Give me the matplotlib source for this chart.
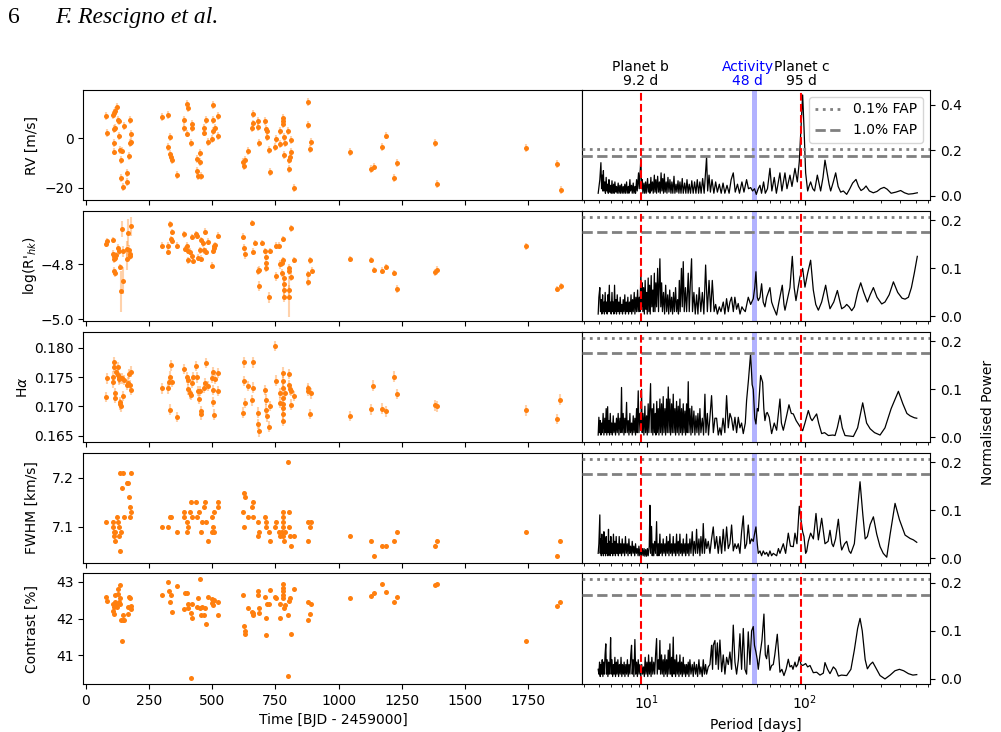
import numpy as np
import matplotlib
matplotlib.use("Agg")
import matplotlib.pyplot as plt
from matplotlib.ticker import MultipleLocator, FuncFormatter, FormatStrFormatter
import matplotlib.transforms as mtransforms

plt.rcParams['font.family'] = ['DejaVu Sans']

# ---------------- time series data ----------------
rv_time = [80, 83, 107, 112, 116, 124, 112, 116, 112, 112,
           129, 131, 131, 137, 138, 140, 144, 147, 150, 164,
           164, 170, 173, 174, 177, 180,
           300, 326, 326, 333, 333, 338, 341, 360, 390, 390,
           400, 403, 400, 415, 420, 421, 438, 438, 445, 451,
           452, 454, 467, 469, 475, 482, 499, 503, 505, 505,
           510, 521, 524,
           620, 625, 628, 643, 658, 661, 662, 682, 683, 686,
           710, 713, 716, 717, 726, 728, 749, 753, 768, 769,
           778, 780, 780, 783, 784, 786, 801, 804, 805, 808,
           810, 811, 823, 878, 879, 888, 891,
           1043, 1126, 1138, 1173, 1188, 1220, 1231, 1381, 1390, 1741, 1865, 1878]
rv_val = [9.0, 2.3, 9.7, 10.3, 11.3, 12.7, 3.8, 4.1, -1.8, -5.3,
          7.6, 6.9, 1.1, -4.8, -15.9, -8.8, -4.9, -19.7, 4.9, -17.7,
          -13.9, -7.1, 7.5, -1.8, -1.5, 1.8,
          8.8, 9.4, -3.3, 0.7, -6.4, -7.5, -8.8, -14.7, 7.6, 4.2,
          13.9, 12.5, 2.0, -1.9, 5.9, 4.1, -8.2, -13.1, -15.1, -6.0,
          -9.5, -15.2, 4.4, 2.4, 7.5, -1.5, -0.1, 7.5, 13.5, 3.1,
          4.1, 9.0, 1.0,
          -9.5, -11.2, -8.7, -5.0, 4.2, 9.8, 6.1, 7.1, 4.8, -1.9,
          7.1, 3.8, 0.4, 3.1, -4.8, -13.6, -3.3, -0.3, 3.1, -2.3,
          8.2, 6.9, 5.9, -6.7, 0.7, -2.0, 3.1, -8.8, -12.4, -7.5,
          -5.4, -0.7, -20.0, 14.7, 5.6, -4.2, -1.6,
          -5.6, -12.4, -11.4, -3.3, 1.2, -15.9, -9.8, -1.9, -18.6, -3.7, -10.5, -21.1]
rv_err = 1.6

logr_time = [80, 83, 107, 107, 110, 112, 112, 116, 116, 120,
             129, 131, 137, 138, 144, 149, 149, 162, 164, 168,
             171, 173, 174, 180,
             300, 326, 327, 333, 338, 341, 342, 360, 390, 393,
             400, 403, 405, 414, 420, 421, 423, 435, 440, 445,
             451, 454, 457, 464, 469, 473, 475, 482, 499, 502,
             506, 508, 512, 524,
             620, 625, 629, 658, 662, 668, 682, 685, 685, 698,
             710, 713, 714, 711, 726, 728, 751, 754, 765, 768,
             774, 777, 778, 780, 783, 783, 783, 783, 802, 804,
             804, 805, 810, 811, 824, 878, 879, 887, 893,
             1043, 1126, 1138, 1173, 1188, 1220, 1231, 1381, 1390, 1741, 1865, 1878]
logr_val = [-4.725, -4.715, -4.710, -4.763, -4.769, -4.781, -4.825, -4.831, -4.775, -4.765,
            -4.738, -4.752, -4.810, -4.898, -4.671, -4.752, -4.859, -4.780, -4.745, -4.684,
            -4.747, -4.769, -4.760, -4.660,
            -4.731, -4.731, -4.754, -4.653, -4.706, -4.681, -4.713, -4.731, -4.690, -4.744,
            -4.731, -4.785, -4.750, -4.753, -4.700, -4.769, -4.788, -4.688, -4.694, -4.775,
            -4.748, -4.779, -4.710, -4.723, -4.748, -4.680, -4.753, -4.716, -4.804, -4.750,
            -4.734, -4.738, -4.728, -4.694,
            -4.698, -4.738, -4.760, -4.648, -4.753, -4.721, -4.825, -4.879, -4.819, -4.721,
            -4.750, -4.771, -4.796, -4.813, -4.921, -4.750, -4.731, -4.844, -4.731, -4.800,
            -4.796, -4.831, -4.706, -4.785, -4.848, -4.873, -4.894, -4.919, -4.813, -4.894,
            -4.919, -4.825, -4.846, -4.668, -4.783, -4.836, -4.865, -4.785, -4.823,
            -4.780, -4.784, -4.821, -4.823, -4.809, -4.831, -4.890, -4.829, -4.819, -4.734, -4.890, -4.880]
logr_err = [0.012, 0.012, 0.012, 0.015, 0.015, 0.015, 0.015, 0.015, 0.012, 0.012,
            0.012, 0.012, 0.012, 0.075, 0.030, 0.020, 0.050, 0.040, 0.030, 0.050,
            0.020, 0.015, 0.015, 0.035,
            0.012, 0.012, 0.012, 0.012, 0.012, 0.012, 0.012, 0.012, 0.012, 0.012,
            0.012, 0.012, 0.012, 0.012, 0.012, 0.012, 0.012, 0.012, 0.012, 0.012,
            0.012, 0.012, 0.012, 0.012, 0.012, 0.012, 0.012, 0.012, 0.012, 0.012,
            0.012, 0.012, 0.012, 0.012,
            0.012, 0.012, 0.020, 0.012, 0.012, 0.012, 0.015, 0.020, 0.012, 0.012,
            0.012, 0.012, 0.015, 0.015, 0.020, 0.012, 0.012, 0.015, 0.012, 0.015,
            0.012, 0.015, 0.012, 0.012, 0.015, 0.020, 0.020, 0.020, 0.015, 0.020,
            0.075, 0.012, 0.015, 0.012, 0.012, 0.012, 0.015, 0.012, 0.012,
            0.012, 0.012, 0.012, 0.012, 0.012, 0.012, 0.015, 0.012, 0.012, 0.012, 0.012, 0.012]

ha_time = [79, 83, 107, 109, 110, 113, 115, 116, 118, 126,
           129, 131, 132, 134, 135, 137, 138, 144, 147, 150,
           165, 167, 171, 176, 177, 180,
           300, 326, 329, 333, 333, 338, 342, 360, 387, 400,
           403, 405, 414, 417, 421, 424, 436, 438, 445, 449,
           452, 454, 455, 467, 470, 475, 482, 499, 503, 503,
           505, 506, 510, 521, 524,
           620, 625, 626, 629, 643, 658, 661, 662, 682, 683,
           686, 710, 713, 714, 716, 726, 728, 749, 753, 768,
           769, 778, 781, 781, 781, 781, 781, 781, 781, 786,
           802, 804, 808, 810, 812, 823, 878, 879, 885, 891,
           1043, 1126, 1137, 1173, 1188, 1220, 1231, 1381, 1390, 1740, 1864, 1877]
ha_val = [0.17164, 0.17481, 0.17510, 0.17412, 0.17671, 0.17758, 0.17221, 0.17152, 0.17585, 0.17539,
          0.17666, 0.17464, 0.17498, 0.17481, 0.17077, 0.17037, 0.17002, 0.17481, 0.17181, 0.17452,
          0.17366, 0.17406, 0.17556, 0.17366, 0.17279, 0.17596,
          0.17308, 0.17308, 0.17412, 0.17510, 0.16945, 0.17700, 0.17423, 0.16818, 0.17642, 0.17498,
          0.17291, 0.17452, 0.17221, 0.17198, 0.17406, 0.17498, 0.17694, 0.17498, 0.17262, 0.17135,
          0.17262, 0.16922, 0.16864, 0.17319, 0.17394, 0.17740, 0.17348, 0.17492, 0.17585, 0.17279,
          0.17077, 0.16858, 0.17470, 0.17262, 0.17567,
          0.16893, 0.17435, 0.17752, 0.17060, 0.17348, 0.17106, 0.17752, 0.17319, 0.16893, 0.16702,
          0.16576, 0.17279, 0.17118, 0.16945, 0.16829, 0.16656, 0.17008, 0.18029, 0.17441, 0.17233,
          0.17066, 0.17308, 0.17579, 0.17441, 0.17147, 0.17037, 0.16980, 0.16864, 0.16749, 0.17221,
          0.17550, 0.17366, 0.17291, 0.17031, 0.17262, 0.17175, 0.17308, 0.17268, 0.16875, 0.17221,
          0.16835, 0.16950, 0.17354, 0.16962, 0.16916, 0.17510, 0.17210, 0.17020, 0.17002, 0.16933, 0.16789, 0.17118]
ha_err = 0.0009

fwhm_time = [80, 107, 109, 110, 112, 115, 116, 125, 129, 131,
             131, 135, 137, 138, 144, 146, 150, 162, 168, 171,
             174, 176, 177, 180,
             300, 326, 333, 338, 360, 390, 390, 400, 400, 403,
             414, 418, 420, 436, 439, 449, 454, 458, 467, 473,
             475, 482, 499, 500, 505, 506, 509, 521, 524,
             620, 625, 627, 629, 643, 658, 661, 662, 682, 683,
             685, 710, 713, 714, 726, 728, 749, 753, 766, 768,
             775, 778, 781, 781, 781, 781, 783, 786, 801, 804,
             805, 808, 811, 823, 878, 879, 885, 891,
             1043, 1126, 1138, 1173, 1188, 1220, 1231, 1381, 1390, 1740, 1864, 1877]
fwhm_val = [7.11, 7.11, 7.10, 7.09, 7.08, 7.07, 7.09, 7.12, 7.11, 7.10,
            7.08, 7.21, 7.05, 7.09, 7.18, 7.21, 7.12, 7.19, 7.19, 7.16,
            7.12, 7.14, 7.13, 7.21,
            7.10, 7.10, 7.12, 7.12, 7.09, 7.13, 7.12, 7.11, 7.09, 7.10,
            7.13, 7.15, 7.12, 7.15, 7.12, 7.13, 7.09, 7.11, 7.14, 7.15,
            7.11, 7.07, 7.12, 7.09, 7.10, 7.09, 7.13, 7.14, 7.15,
            7.13, 7.17, 7.10, 7.16, 7.12, 7.14, 7.15, 7.12, 7.08, 7.11,
            7.09, 7.12, 7.10, 7.11, 7.09, 7.07, 7.10, 7.11, 7.09, 7.08,
            7.09, 7.13, 7.12, 7.11, 7.10, 7.08, 7.07, 7.09, 7.232, 7.13,
            7.10, 7.08, 7.06, 7.08, 7.11, 7.07, 7.10, 7.11,
            7.08, 7.07, 7.04, 7.06, 7.06, 7.07, 7.09, 7.06, 7.07, 7.09, 7.04, 7.07]
fwhm_err = 0.004

con_time = [80, 83, 107, 109, 110, 112, 115, 116, 119, 123,
            126, 129, 131, 134, 135, 137, 138, 144, 146, 149,
            153, 167, 168, 171, 176, 177, 180,
            300, 326, 329, 333, 338, 341, 360, 390, 391, 400,
            403, 405, 415, 418, 421, 421, 438, 443, 452, 452,
            457, 461, 466, 472, 475, 482, 499, 500, 503, 505,
            509, 521, 524,
            620, 625, 628, 631, 643, 658, 661, 662, 682, 683,
            685, 686, 710, 713, 714, 717, 726, 728, 749, 753,
            768, 769, 780, 780, 780, 780, 781, 783, 787, 801,
            801, 802, 807, 811, 823, 878, 879, 885, 891,
            1043, 1126, 1138, 1173, 1188, 1220, 1231, 1381, 1390, 1740, 1864, 1877]
con_val = [42.60, 42.48, 42.40, 42.21, 42.12, 42.32, 42.65, 42.46, 42.37, 42.32,
           42.68, 42.81, 42.46, 42.40, 42.91, 42.56, 41.95, 41.40, 41.95, 42.09,
           41.95, 42.32, 42.12, 42.60, 42.56, 42.34, 42.25,
           42.65, 43.00, 42.74, 42.46, 42.65, 42.19, 42.88, 42.26, 42.69, 42.71,
           42.40, 42.30, 42.14, 40.38, 42.40, 42.03, 42.32, 42.56, 43.08, 42.30,
           42.11, 42.32, 42.09, 42.28, 41.84, 42.60, 42.53, 42.42, 42.48, 42.37,
           42.51, 42.09, 42.46,
           42.65, 41.79, 41.65, 41.58, 42.30, 42.19, 42.09, 42.16, 42.74, 42.63,
           42.30, 42.14, 42.58, 42.02, 41.56, 42.39, 42.39, 42.79, 42.60, 42.56,
           42.39, 42.02, 42.93, 42.84, 42.74, 42.65, 42.56, 42.30, 42.37, 42.09,
           40.45, 42.48, 42.56, 41.58, 42.81, 42.44, 41.95, 42.12, 42.40,
           42.56, 42.62, 42.71, 42.95, 42.72, 42.44, 42.60, 42.91, 42.93, 41.40, 42.35, 42.44]
con_err = 0.02

# ---------------- periodograms: (period [d], normalised power) ----------------
pgram_rv = [
    (4.95, 0.01), (5.07, 0.07), (5.15, 0.145), (5.20, 0.03), (5.25, 0.09), (5.29, 0.02), (5.34, 0.11), (5.38, 0.02),
    (5.45, 0.06), (5.50, 0.01), (5.56, 0.08), (5.61, 0.02), (5.68, 0.05), (5.73, 0.01), (5.79, 0.07), (5.84, 0.015),
    (5.93, 0.045), (5.98, 0.01), (6.05, 0.065), (6.12, 0.01), (6.20, 0.05), (6.25, 0.01), (6.31, 0.06), (6.40, 0.015),
    (6.46, 0.04), (6.53, 0.01), (6.62, 0.055), (6.69, 0.01), (6.79, 0.045), (6.85, 0.01), (6.95, 0.05), (7.02, 0.01),
    (7.12, 0.04), (7.19, 0.01), (7.29, 0.05), (7.36, 0.01), (7.48, 0.06), (7.55, 0.01), (7.66, 0.04), (7.74, 0.01),
    (7.85, 0.07), (7.92, 0.02), (8.04, 0.045), (8.12, 0.01), (8.24, 0.055), (8.32, 0.01), (8.44, 0.04), (8.52, 0.01),
    (8.65, 0.07), (8.73, 0.02), (8.90, 0.10), (8.99, 0.03), (9.21, 0.165), (9.30, 0.03), (9.39, 0.07), (9.48, 0.01),
    (9.62, 0.055), (9.72, 0.01), (9.86, 0.06), (9.95, 0.01), (10.15, 0.075), (10.25, 0.015), (10.40, 0.05), (10.50, 0.01),
    (10.65, 0.08), (10.75, 0.02), (10.90, 0.06), (11.02, 0.01), (11.20, 0.09), (11.30, 0.015), (11.45, 0.07), (11.57, 0.01),
    (11.75, 0.085), (11.90, 0.015), (12.05, 0.06), (12.20, 0.01), (12.35, 0.10), (12.50, 0.02), (12.65, 0.075), (12.80, 0.01),
    (12.95, 0.095), (13.10, 0.015), (13.30, 0.06), (13.45, 0.01), (13.65, 0.08), (13.85, 0.015), (14.05, 0.07), (14.25, 0.01),
    (14.45, 0.06), (14.65, 0.01), (14.90, 0.085), (15.10, 0.01), (15.35, 0.05), (15.55, 0.015), (15.80, 0.065), (16.00, 0.01),
    (16.25, 0.06), (16.50, 0.01), (16.80, 0.075), (17.05, 0.01), (17.40, 0.055), (17.70, 0.01), (18.00, 0.07), (18.30, 0.01),
    (18.60, 0.05), (18.95, 0.01), (19.30, 0.065), (19.70, 0.01), (20.10, 0.06), (20.50, 0.01), (20.90, 0.07), (21.30, 0.01),
    (21.70, 0.06), (22.10, 0.01), (22.60, 0.075), (23.10, 0.01), (23.45, 0.08), (23.93, 0.17), (24.30, 0.02), (24.80, 0.09),
    (25.30, 0.015), (25.90, 0.07), (26.60, 0.01), (27.30, 0.06), (28.00, 0.015), (28.80, 0.05), (29.60, 0.01), (30.40, 0.055),
    (31.20, 0.01), (32.20, 0.045), (33.20, 0.01), (34.20, 0.07), (35.27, 0.10), (36.30, 0.015), (37.50, 0.05), (38.60, 0.01),
    (40.00, 0.06), (41.20, 0.015), (42.80, 0.07), (44.00, 0.03), (45.40, 0.035), (46.70, 0.02), (48.00, 0.03), (49.30, 0.005),
    (50.70, 0.03), (51.98, 0.045), (53.20, 0.01), (54.80, 0.06), (56.20, 0.01), (58.00, 0.03), (60.12, 0.12), (61.80, 0.02),
    (64.00, 0.08), (66.00, 0.01), (69.50, 0.10), (71.50, 0.02), (74.77, 0.10), (77.00, 0.03), (80.40, 0.09), (82.80, 0.04),
    (86.50, 0.12), (89.50, 0.06), (92.10, 0.15), (94.40, 0.30), (96.70, 0.444), (98.60, 0.30), (101.0, 0.10), (104.0, 0.02),
    (106.0, 0.04), (108.6, 0.06), (112.0, 0.03), (115.0, 0.02), (119.7, 0.09), (125.6, 0.02), (130.0, 0.08), (133.8, 0.156),
    (138.0, 0.10), (142.0, 0.05), (145.3, 0.02), (151.0, 0.06), (156.3, 0.10), (162.0, 0.04), (168.1, 0.015), (174.7, 0.02),
    (183.4, 0.005), (192.0, 0.03), (200.0, 0.055), (210.0, 0.071), (218.0, 0.04), (226.0, 0.022), (235.0, 0.03), (243.0, 0.042),
    (255.0, 0.02), (270.0, 0.012), (285.0, 0.018), (300.0, 0.03), (315.7, 0.036), (330.0, 0.028), (350.0, 0.01), (375.0, 0.015),
    (402.0, 0.022), (425.0, 0.012), (450.0, 0.006), (480.0, 0.008), (512.0, 0.012)]

pgram_logr = [
    (4.95, 0.005), (5.00, 0.04), (5.07, 0.06), (5.12, 0.01), (5.18, 0.035), (5.22, 0.005), (5.28, 0.045), (5.32, 0.01),
    (5.38, 0.03), (5.42, 0.005), (5.48, 0.05), (5.53, 0.01), (5.59, 0.03), (5.64, 0.005), (5.70, 0.045), (5.75, 0.01),
    (5.82, 0.065), (5.87, 0.01), (5.93, 0.03), (5.98, 0.005), (6.05, 0.05), (6.10, 0.01), (6.16, 0.03), (6.22, 0.005),
    (6.28, 0.065), (6.34, 0.01), (6.40, 0.035), (6.46, 0.005), (6.53, 0.045), (6.60, 0.01), (6.68, 0.03), (6.75, 0.005),
    (6.82, 0.04), (6.90, 0.01), (6.98, 0.025), (7.05, 0.005), (7.12, 0.035), (7.20, 0.01), (7.29, 0.045), (7.36, 0.005),
    (7.45, 0.03), (7.52, 0.01), (7.62, 0.04), (7.70, 0.005), (7.80, 0.03), (7.88, 0.01), (7.98, 0.045), (8.06, 0.005),
    (8.16, 0.035), (8.24, 0.01), (8.36, 0.05), (8.44, 0.005), (8.56, 0.04), (8.65, 0.01), (8.78, 0.055), (8.86, 0.01),
    (8.99, 0.04), (9.08, 0.01), (9.21, 0.09), (9.30, 0.02), (9.39, 0.07), (9.48, 0.01), (9.58, 0.06), (9.68, 0.005),
    (9.80, 0.075), (9.90, 0.015), (10.00, 0.05), (10.10, 0.005), (10.24, 0.08), (10.34, 0.01), (10.45, 0.065), (10.55, 0.005),
    (10.70, 0.085), (10.80, 0.02), (10.95, 0.055), (11.05, 0.01), (11.20, 0.09), (11.30, 0.01), (11.45, 0.07), (11.57, 0.02),
    (11.75, 0.10), (11.90, 0.01), (12.00, 0.06), (12.14, 0.12), (12.30, 0.02), (12.45, 0.07), (12.60, 0.01), (12.80, 0.05),
    (13.00, 0.005), (13.20, 0.065), (13.40, 0.01), (13.60, 0.045), (13.80, 0.005), (14.00, 0.055), (14.20, 0.01), (14.40, 0.04),
    (14.60, 0.005), (14.80, 0.05), (15.00, 0.01), (15.25, 0.06), (15.47, 0.01), (15.70, 0.035), (15.90, 0.005), (16.10, 0.075),
    (16.30, 0.01), (16.60, 0.10), (16.80, 0.02), (17.05, 0.114), (17.30, 0.01), (17.60, 0.06), (17.90, 0.01), (18.33, 0.09),
    (18.60, 0.01), (18.90, 0.07), (19.24, 0.12), (19.50, 0.01), (19.90, 0.05), (20.30, 0.005), (20.70, 0.045), (21.10, 0.005),
    (21.50, 0.06), (22.00, 0.01), (22.50, 0.05), (23.00, 0.005), (23.60, 0.107), (24.20, 0.01), (24.80, 0.075), (25.40, 0.01),
    (26.00, 0.075), (26.70, 0.01), (27.30, 0.025), (28.00, 0.005), (28.80, 0.02), (29.50, 0.01), (30.50, 0.03), (31.20, 0.005),
    (32.00, 0.037), (32.80, 0.01), (33.60, 0.03), (34.40, 0.04), (35.30, 0.01), (36.10, 0.04), (37.00, 0.015), (37.90, 0.027),
    (38.90, 0.005), (40.00, 0.02), (40.80, 0.015), (42.00, 0.01), (43.86, 0.04), (45.40, 0.025), (47.17, 0.037), (48.20, 0.06),
    (49.03, 0.093), (50.00, 0.04), (50.73, 0.033), (52.00, 0.04), (53.26, 0.068), (54.50, 0.03), (55.90, 0.02), (57.30, 0.04),
    (60.12, 0.06), (61.60, 0.03), (63.10, 0.02), (66.20, 0.003), (68.50, 0.03), (71.92, 0.065), (73.70, 0.025), (74.80, 0.013),
    (78.00, 0.04), (80.40, 0.06), (83.19, 0.125), (85.50, 0.06), (87.75, 0.033), (90.50, 0.06), (93.00, 0.082), (96.70, 0.10),
    (100.0, 0.061), (104.0, 0.09), (108.6, 0.117), (112.9, 0.055), (117.0, 0.025), (121.5, 0.013), (127.5, 0.03), (135.1, 0.065),
    (140.0, 0.035), (143.9, 0.016), (152.0, 0.03), (160.2, 0.054), (166.5, 0.03), (170.6, 0.016), (178.0, 0.02), (183.4, 0.025),
    (190.0, 0.02), (197.3, 0.012), (205.0, 0.02), (215.0, 0.05), (224.9, 0.07), (235.0, 0.05), (247.8, 0.03), (258.0, 0.045),
    (270.4, 0.06), (285.0, 0.04), (305.2, 0.026), (320.0, 0.03), (340.0, 0.045), (361.7, 0.072), (385.0, 0.05), (410.0, 0.038),
    (428.6, 0.036), (450.0, 0.04), (470.0, 0.06), (490.0, 0.09), (512.0, 0.125)]

pgram_ha = [
    (4.95, 0.005), (5.00, 0.042), (5.05, 0.01), (5.10, 0.035), (5.15, 0.005), (5.20, 0.03), (5.25, 0.01), (5.32, 0.05),
    (5.38, 0.005), (5.45, 0.04), (5.50, 0.01), (5.56, 0.06), (5.61, 0.005), (5.68, 0.064), (5.73, 0.01), (5.79, 0.035),
    (5.84, 0.005), (5.90, 0.05), (5.96, 0.01), (6.02, 0.03), (6.08, 0.005), (6.16, 0.045), (6.22, 0.01), (6.31, 0.03),
    (6.37, 0.005), (6.46, 0.04), (6.53, 0.01), (6.62, 0.05), (6.69, 0.005), (6.79, 0.04), (6.87, 0.01), (6.95, 0.104),
    (7.02, 0.01), (7.12, 0.05), (7.20, 0.005), (7.29, 0.04), (7.36, 0.01), (7.48, 0.073), (7.55, 0.01), (7.66, 0.035),
    (7.74, 0.005), (7.85, 0.05), (7.92, 0.01), (8.04, 0.03), (8.12, 0.005), (8.24, 0.045), (8.32, 0.01), (8.44, 0.04),
    (8.52, 0.005), (8.65, 0.06), (8.73, 0.01), (8.86, 0.097), (8.95, 0.01), (9.08, 0.05), (9.21, 0.02), (9.30, 0.10),
    (9.39, 0.01), (9.50, 0.05), (9.62, 0.005), (9.76, 0.065), (9.86, 0.01), (10.00, 0.045), (10.10, 0.005), (10.24, 0.07),
    (10.34, 0.01), (10.45, 0.055), (10.60, 0.112), (10.70, 0.01), (10.86, 0.06), (10.95, 0.005), (11.10, 0.07), (11.20, 0.01),
    (11.35, 0.05), (11.45, 0.005), (11.60, 0.075), (11.70, 0.01), (11.85, 0.06), (11.97, 0.005), (12.14, 0.08), (12.26, 0.01),
    (12.44, 0.07), (12.56, 0.005), (12.74, 0.085), (12.87, 0.01), (13.06, 0.06), (13.19, 0.005), (13.38, 0.08), (13.51, 0.01),
    (13.71, 0.105), (13.85, 0.01), (14.04, 0.08), (14.18, 0.005), (14.39, 0.07), (14.53, 0.01), (14.74, 0.09), (14.89, 0.01),
    (15.10, 0.06), (15.25, 0.005), (15.47, 0.075), (15.62, 0.01), (15.85, 0.065), (16.01, 0.005), (16.24, 0.08), (16.40, 0.01),
    (16.64, 0.06), (16.80, 0.005), (17.05, 0.07), (17.21, 0.01), (17.47, 0.055), (17.64, 0.005), (17.89, 0.07), (18.07, 0.01),
    (18.33, 0.116), (18.51, 0.01), (18.78, 0.06), (19.07, 0.005), (19.30, 0.065), (19.55, 0.01), (19.90, 0.055), (20.19, 0.005),
    (20.50, 0.045), (20.80, 0.01), (21.10, 0.05), (21.41, 0.005), (21.72, 0.06), (22.04, 0.01), (22.50, 0.04), (22.90, 0.005),
    (23.36, 0.09), (23.70, 0.01), (24.20, 0.05), (24.60, 0.005), (25.10, 0.04), (25.73, 0.087), (26.40, 0.01), (27.02, 0.04),
    (27.68, 0.04), (28.36, 0.005), (29.05, 0.02), (29.60, 0.005), (30.40, 0.04), (31.20, 0.01), (32.01, 0.087), (32.80, 0.02),
    (33.60, 0.05), (34.43, 0.039), (35.27, 0.015), (36.14, 0.042), (37.02, 0.01), (37.93, 0.042), (38.86, 0.02), (39.81, 0.03),
    (40.79, 0.008), (42.00, 0.03), (42.81, 0.077), (44.00, 0.12), (45.38, 0.175), (46.40, 0.11), (47.17, 0.10), (48.20, 0.04),
    (49.03, 0.028), (50.00, 0.06), (50.73, 0.055), (52.49, 0.129), (54.04, 0.115), (55.00, 0.06), (55.89, 0.035), (57.00, 0.05),
    (57.82, 0.052), (59.50, 0.042), (61.60, 0.008), (64.00, 0.03), (66.24, 0.015), (69.53, 0.08), (71.00, 0.03), (73.00, 0.015),
    (76.00, 0.04), (79.25, 0.068), (82.00, 0.05), (84.41, 0.049), (88.00, 0.035), (92.00, 0.025), (96.70, 0.014), (100.0, 0.03),
    (105.0, 0.056), (108.6, 0.04), (111.0, 0.035), (118.5, 0.049), (122.0, 0.03), (127.5, 0.008), (133.0, 0.01), (140.5, 0.004),
    (150.0, 0.005), (154.8, 0.004), (160.0, 0.02), (166.5, 0.046), (172.0, 0.02), (179.0, 0.004), (190.0, 0.003), (202.1, 0.002),
    (215.0, 0.02), (231.5, 0.072), (245.0, 0.03), (258.0, 0.018), (275.0, 0.01), (297.9, 0.005), (320.0, 0.02), (350.0, 0.06),
    (388.9, 0.096), (415.0, 0.07), (440.0, 0.05), (461.0, 0.045), (490.0, 0.041), (507.9, 0.04)]

pgram_fwhm = [
    (4.95, 0.01), (5.00, 0.03), (5.07, 0.09), (5.10, 0.01), (5.15, 0.04), (5.18, 0.005), (5.22, 0.05), (5.26, 0.01),
    (5.30, 0.035), (5.34, 0.005), (5.38, 0.055), (5.42, 0.01), (5.47, 0.04), (5.51, 0.005), (5.56, 0.045), (5.60, 0.01),
    (5.65, 0.03), (5.70, 0.005), (5.75, 0.06), (5.79, 0.01), (5.84, 0.035), (5.89, 0.005), (5.95, 0.045), (6.00, 0.01),
    (6.06, 0.03), (6.11, 0.005), (6.18, 0.05), (6.24, 0.01), (6.30, 0.035), (6.36, 0.005), (6.43, 0.045), (6.50, 0.01),
    (6.57, 0.03), (6.64, 0.005), (6.72, 0.045), (6.79, 0.01), (6.87, 0.03), (6.95, 0.005), (7.02, 0.04), (7.10, 0.01),
    (7.19, 0.03), (7.27, 0.005), (7.36, 0.045), (7.45, 0.01), (7.55, 0.03), (7.64, 0.005), (7.74, 0.04), (7.83, 0.01),
    (7.92, 0.025), (8.02, 0.005), (8.12, 0.035), (8.22, 0.01), (8.32, 0.025), (8.42, 0.005), (8.52, 0.03), (8.62, 0.01),
    (8.73, 0.02), (8.84, 0.005), (8.95, 0.025), (9.06, 0.005), (9.17, 0.02), (9.28, 0.005), (9.40, 0.02), (9.52, 0.005),
    (9.64, 0.02), (9.76, 0.004), (9.88, 0.018), (10.00, 0.004), (10.12, 0.02), (10.24, 0.005), (10.40, 0.025), (10.50, 0.11),
    (10.60, 0.01), (10.75, 0.066), (10.86, 0.005), (11.00, 0.03), (11.10, 0.005), (11.25, 0.035), (11.40, 0.01), (11.57, 0.076),
    (11.68, 0.005), (11.85, 0.03), (11.97, 0.005), (12.14, 0.05), (12.26, 0.01), (12.44, 0.03), (12.56, 0.005), (12.74, 0.04),
    (12.87, 0.01), (13.06, 0.03), (13.19, 0.005), (13.38, 0.045), (13.51, 0.01), (13.71, 0.035), (13.85, 0.005), (14.04, 0.05),
    (14.18, 0.01), (14.39, 0.03), (14.53, 0.005), (14.74, 0.045), (14.89, 0.01), (15.10, 0.03), (15.25, 0.005), (15.47, 0.05),
    (15.62, 0.01), (15.85, 0.035), (16.01, 0.005), (16.24, 0.05), (16.40, 0.01), (16.64, 0.03), (16.80, 0.005), (17.05, 0.04),
    (17.21, 0.01), (17.47, 0.03), (17.64, 0.005), (17.89, 0.05), (18.07, 0.01), (18.33, 0.03), (18.51, 0.005), (18.78, 0.04),
    (19.07, 0.01), (19.43, 0.055), (19.71, 0.005), (20.00, 0.035), (20.39, 0.01), (20.69, 0.06), (21.00, 0.01), (21.41, 0.04),
    (21.72, 0.005), (22.04, 0.045), (22.47, 0.01), (22.80, 0.072), (23.20, 0.01), (23.60, 0.04), (24.00, 0.02), (24.52, 0.035),
    (25.12, 0.01), (25.73, 0.04), (26.37, 0.065), (27.00, 0.02), (27.68, 0.045), (28.36, 0.01), (29.05, 0.045), (29.77, 0.01),
    (30.49, 0.06), (31.24, 0.015), (32.01, 0.065), (32.80, 0.02), (33.60, 0.03), (34.43, 0.069), (35.27, 0.015), (36.14, 0.03),
    (37.02, 0.02), (37.93, 0.03), (38.86, 0.01), (39.81, 0.055), (40.79, 0.088), (41.79, 0.02), (42.81, 0.03), (43.86, 0.069),
    (44.94, 0.03), (46.04, 0.04), (47.17, 0.035), (48.33, 0.055), (49.03, 0.065), (50.00, 0.03), (50.73, 0.01), (52.00, 0.015),
    (53.26, 0.005), (54.56, 0.015), (55.89, 0.008), (57.27, 0.012), (58.67, 0.004), (60.12, 0.015), (61.59, 0.005), (63.10, 0.01),
    (66.24, 0.005), (68.00, 0.02), (69.53, 0.01), (72.98, 0.03), (75.50, 0.01), (78.49, 0.052), (81.00, 0.025), (84.41, 0.024),
    (86.49, 0.052), (89.00, 0.03), (92.12, 0.108), (94.38, 0.08), (96.69, 0.055), (98.58, 0.045), (101.0, 0.01), (102.5, 0.014),
    (105.0, 0.035), (108.6, 0.052), (113.0, 0.04), (117.4, 0.093), (121.5, 0.038), (127.5, 0.083), (133.8, 0.03), (140.0, 0.035),
    (143.9, 0.058), (148.0, 0.03), (151.1, 0.024), (156.0, 0.04), (162.5, 0.081), (168.0, 0.03), (170.6, 0.017), (178.0, 0.03),
    (183.4, 0.035), (190.0, 0.015), (194.8, 0.01), (205.0, 0.03), (213.0, 0.09), (222.7, 0.159), (232.0, 0.09), (240.0, 0.04),
    (247.8, 0.045), (258.0, 0.07), (270.4, 0.086), (283.8, 0.05), (297.9, 0.024), (312.0, 0.01), (328.3, 0.002), (345.0, 0.05),
    (370.5, 0.114), (395.0, 0.08), (428.6, 0.048), (461.0, 0.041), (483.9, 0.038), (507.9, 0.033)]

pgram_con = [
    (4.95, 0.02), (5.00, 0.01), (5.05, 0.035), (5.10, 0.005), (5.15, 0.03), (5.20, 0.01), (5.25, 0.04), (5.30, 0.005),
    (5.36, 0.035), (5.41, 0.01), (5.47, 0.05), (5.53, 0.073), (5.58, 0.01), (5.64, 0.04), (5.70, 0.005), (5.76, 0.035),
    (5.81, 0.01), (5.87, 0.03), (5.93, 0.086), (5.98, 0.01), (6.05, 0.04), (6.11, 0.005), (6.18, 0.03), (6.24, 0.01),
    (6.31, 0.045), (6.37, 0.005), (6.45, 0.035), (6.51, 0.01), (6.59, 0.04), (6.66, 0.005), (6.74, 0.03), (6.82, 0.01),
    (6.90, 0.045), (6.98, 0.005), (7.06, 0.03), (7.14, 0.01), (7.22, 0.035), (7.30, 0.005), (7.40, 0.03), (7.48, 0.01),
    (7.57, 0.04), (7.66, 0.005), (7.75, 0.03), (7.85, 0.01), (7.95, 0.05), (8.04, 0.07), (8.12, 0.01), (8.22, 0.04),
    (8.32, 0.005), (8.44, 0.082), (8.54, 0.01), (8.65, 0.035), (8.75, 0.005), (8.86, 0.04), (8.97, 0.01), (9.08, 0.03),
    (9.20, 0.005), (9.32, 0.03), (9.44, 0.01), (9.56, 0.025), (9.68, 0.005), (9.80, 0.045), (9.92, 0.01), (10.05, 0.035),
    (10.18, 0.005), (10.30, 0.05), (10.42, 0.01), (10.55, 0.035), (10.68, 0.005), (10.80, 0.045), (10.95, 0.01), (11.10, 0.035),
    (11.25, 0.01), (11.40, 0.05), (11.57, 0.084), (11.68, 0.01), (11.85, 0.04), (12.00, 0.02), (12.14, 0.08), (12.26, 0.01),
    (12.44, 0.05), (12.56, 0.01), (12.74, 0.04), (12.87, 0.005), (13.06, 0.05), (13.19, 0.01), (13.38, 0.04), (13.51, 0.005),
    (13.71, 0.06), (13.85, 0.01), (14.04, 0.073), (14.18, 0.01), (14.39, 0.045), (14.53, 0.005), (14.74, 0.087), (14.89, 0.01),
    (15.10, 0.04), (15.25, 0.005), (15.47, 0.05), (15.62, 0.01), (15.85, 0.035), (16.01, 0.005), (16.24, 0.05), (16.40, 0.01),
    (16.64, 0.035), (16.80, 0.005), (17.05, 0.045), (17.21, 0.01), (17.47, 0.03), (17.64, 0.005), (17.89, 0.03), (18.07, 0.01),
    (18.33, 0.035), (18.51, 0.005), (18.78, 0.04), (19.07, 0.01), (19.43, 0.03), (19.71, 0.005), (20.00, 0.035), (20.39, 0.01),
    (20.69, 0.03), (21.00, 0.005), (21.41, 0.04), (21.72, 0.01), (22.04, 0.025), (22.47, 0.005), (22.80, 0.04), (23.20, 0.01),
    (23.59, 0.03), (23.93, 0.01), (24.52, 0.025), (25.12, 0.03), (25.73, 0.07), (26.10, 0.02), (26.37, 0.07), (27.02, 0.08),
    (27.40, 0.03), (28.00, 0.075), (28.40, 0.02), (29.05, 0.081), (29.80, 0.015), (30.49, 0.05), (31.24, 0.01), (32.01, 0.045),
    (32.80, 0.03), (33.60, 0.056), (34.43, 0.02), (35.27, 0.112), (36.14, 0.035), (37.02, 0.01), (38.00, 0.04), (38.86, 0.094),
    (39.81, 0.02), (40.79, 0.105), (41.79, 0.02), (42.81, 0.01), (43.86, 0.098), (44.94, 0.03), (46.04, 0.10), (47.17, 0.109),
    (48.00, 0.07), (49.03, 0.056), (50.00, 0.04), (50.73, 0.02), (52.00, 0.05), (53.50, 0.08), (55.09, 0.135), (56.20, 0.05),
    (57.27, 0.042), (58.67, 0.07), (60.12, 0.018), (61.59, 0.028), (63.10, 0.03), (64.50, 0.05), (66.88, 0.093), (69.53, 0.014),
    (71.50, 0.02), (73.69, 0.007), (76.00, 0.02), (78.49, 0.041), (80.42, 0.025), (82.39, 0.028), (84.00, 0.02), (86.49, 0.035),
    (88.00, 0.025), (90.00, 0.03), (92.12, 0.046), (94.40, 0.03), (96.69, 0.028), (99.00, 0.03), (101.0, 0.032), (104.0, 0.025),
    (107.6, 0.028), (112.9, 0.013), (118.5, 0.014), (124.4, 0.008), (130.6, 0.012), (133.8, 0.034), (139.0, 0.02), (143.9, 0.011),
    (151.1, 0.025), (156.3, 0.02), (162.5, 0.006), (170.0, 0.008), (183.4, 0.007), (195.0, 0.02), (205.0, 0.06), (215.0, 0.105),
    (222.7, 0.126), (230.0, 0.10), (240.0, 0.04), (247.8, 0.021), (258.0, 0.03), (267.8, 0.035), (283.8, 0.02), (297.9, 0.007),
    (320.0, 0.0), (345.0, 0.008), (370.0, 0.017), (394.6, 0.02), (420.0, 0.017), (449.9, 0.011), (480.0, 0.008), (507.9, 0.009)]

fap_levels = [0.207, 0.175]
fap_labels = ['0.1% FAP', '1.0% FAP']
planet_periods = [9.2, 95.0]
activity_period = 48.0
top_labels = [('Planet b\n9.2 d', 9.2, 'black'), ('Activity\n48 d', 43.5, 'blue'), ('Planet c\n95 d', 95.0, 'black')]

ylabels = ['RV [m/s]', r"log(R'$_{hk}$)", r'H$\alpha$', 'FWHM [km/s]', 'Contrast [%]']
ylabel_x = [-0.09, -0.09, -0.108, -0.09, -0.09]


def minus_fmt(fmt):
    return FuncFormatter(lambda v, pos: (fmt % v).replace('-', '\u2212'))


# ---------------- figure ----------------
fig = plt.figure(figsize=(10.01, 7.32), dpi=100)
LX, LW = 0.0834, 0.4985
RX, RW = 0.5819, 0.3472
H = 0.151
bottoms = [0.7261, 0.5608, 0.3955, 0.2306, 0.0656]

panels = [
    (rv_time, rv_val, rv_err, (-25.2, 19.7), 20, '%d', pgram_rv, (-0.022, 0.466), 0.2),
    (logr_time, logr_val, logr_err, (-5.009, -4.604), 0.2, '%.1f', pgram_logr, (-0.0105, 0.2195), 0.1),
    (ha_time, ha_val, ha_err, (0.16385, 0.18271), 0.005, '%.3f', pgram_ha, (-0.0105, 0.2195), 0.1),
    (fwhm_time, fwhm_val, fwhm_err, (7.025, 7.252), 0.1, '%.1f', pgram_fwhm, (-0.0105, 0.2195), 0.1),
    (con_time, con_val, con_err, (40.22, 43.23), 1, '%d', pgram_con, (-0.0105, 0.2195), 0.1),
]

axL0 = None
axR0 = None
ecol = (1.0, 0.498, 0.055, 0.35)
for i, (t, v, e, ylim, ystep, yfmt, pg, pylim, pstep) in enumerate(panels):
    b = bottoms[i]
    axL = fig.add_axes([LX, b, LW, H], sharex=axL0)
    axR = fig.add_axes([RX, b, RW, H], sharex=axR0)
    if axL0 is None:
        axL0, axR0 = axL, axR

    axL.errorbar(t, v, yerr=e, fmt='o', color='C1', ms=3.6, mew=0, ecolor=ecol,
                 elinewidth=1.5, capsize=0, zorder=3)
    axL.set_ylim(*ylim)
    axL.yaxis.set_major_locator(MultipleLocator(ystep))
    axL.yaxis.set_major_formatter(minus_fmt(yfmt))
    axL.set_ylabel(ylabels[i])
    axL.yaxis.set_label_coords(ylabel_x[i], 0.5)
    axL.set_xlim(-9, 1964)
    axL.xaxis.set_major_locator(MultipleLocator(250))

    pg = np.array(pg)
    axR.plot(pg[:, 0], pg[:, 1], color='black', lw=0.9, zorder=2)
    axR.set_xscale('log')
    axR.set_xlim(3.94, 616)
    axR.set_ylim(*pylim)
    axR.axhline(fap_levels[0], color='gray', ls=':', lw=2, label=fap_labels[0], zorder=3)
    axR.axhline(fap_levels[1], color='gray', ls='--', lw=2, label=fap_labels[1], zorder=3)
    for p in planet_periods:
        axR.axvline(p, color='red', ls='--', lw=1.5, zorder=4)
    axR.axvspan(46.5, 49.5, color='blue', alpha=0.3, lw=0, zorder=1)
    axR.yaxis.tick_right()
    axR.yaxis.set_major_locator(MultipleLocator(pstep))
    axR.yaxis.set_major_formatter(FormatStrFormatter('%.1f'))

    if i == 0:
        axR.legend(loc='upper right', fontsize=10)
        trans = mtransforms.blended_transform_factory(axR.transData, axR.transAxes)
        for txt, xp, col in top_labels:
            axR.text(xp, 1.015, txt, transform=trans, ha='center', va='bottom',
                     color=col, fontsize=10, linespacing=1.0)

    if i < len(panels) - 1:
        axL.tick_params(labelbottom=False)
        axR.tick_params(labelbottom=False, which='both')
    else:
        axL.set_xlabel('Time [BJD - 2459000]')
        axR.set_xlabel('Period [days]')

fig.text(0.987, 0.423, 'Normalised Power', rotation=90, ha='center', va='center', fontsize=10)
fig.text(0.008, 0.9686, '6', fontfamily='Liberation Serif', fontsize=17, va='baseline')
fig.text(0.055, 0.9686, 'F. Rescigno et al.', fontfamily='Liberation Serif', fontstyle='italic',
         fontsize=17, va='baseline')

fig.savefig('out.png', dpi=100)
